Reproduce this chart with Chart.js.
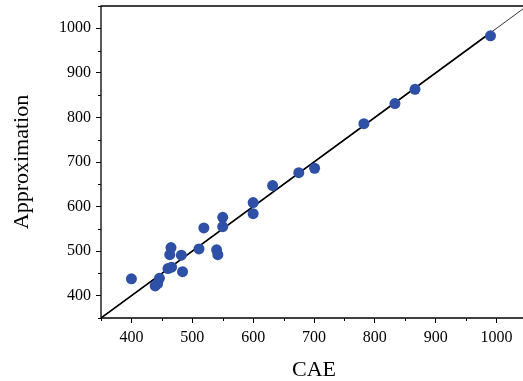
<!DOCTYPE html>
<html>
<head>
<meta charset="utf-8">
<script src="https://cdn.jsdelivr.net/npm/chart.js@4"></script>
<style>
    html, body { margin: 0; padding: 0; background: #fff; overflow: hidden; }
    #chart { display: block; }
</style>
</head>
<body>
<!-- the plot box runs a few pixels past the right edge of the picture -->
<canvas id="chart" width="527" height="381"></canvas>
<script>
// CAE vs approximation values
const caeValues = [400, 439, 443, 446, 460, 466, 463, 465, 482, 484, 511, 519, 540, 542, 550, 550, 600, 600, 632, 675, 701, 782, 833, 866, 990];
const approxValues = [438, 422, 427, 439, 461, 464, 492, 508, 491, 454, 505, 552, 503, 492, 576, 555, 609, 584, 647, 676, 686, 786, 831, 863, 983];

// y = x reference line, drawn heavier over the data range
const refLine = [350, 1050];
const fitLine = [350, 990];

const axisMin = 350;
const axisMax = 1050;
const majorTicks = [400, 500, 600, 700, 800, 900, 1000];
const minorTicks = [350, 450, 550, 650, 750, 850, 950, 1050];

const serif = 'Liberation Serif, Times New Roman, serif';

// open frame (top, left, bottom) and the short minor ticks
const framePlugin = {
    id: 'frame',
    afterDraw(chart) {
        const { ctx, chartArea, scales } = chart;
        ctx.save();
        ctx.strokeStyle = '#000';
        ctx.lineWidth = 1.3;
        ctx.beginPath();
        ctx.moveTo(chartArea.right, chartArea.top);
        ctx.lineTo(chartArea.left, chartArea.top);
        ctx.lineTo(chartArea.left, chartArea.bottom);
        ctx.lineTo(chartArea.right, chartArea.bottom);
        ctx.stroke();

        ctx.lineWidth = 1;
        ctx.beginPath();
        minorTicks.forEach(v => {
            const px = Math.round(scales.x.getPixelForValue(v)) + 0.5;
            ctx.moveTo(px, chartArea.bottom);
            ctx.lineTo(px, chartArea.bottom + 3);
            const py = Math.round(scales.y.getPixelForValue(v)) + 0.5;
            ctx.moveTo(chartArea.left, py);
            ctx.lineTo(chartArea.left - 3, py);
        });
        ctx.stroke();
        ctx.restore();
    }
};

function setMajorTicks(scale) {
    scale.ticks = majorTicks.map(v => ({ value: v }));
}

function noEdgePadding(scale) {
    scale.paddingTop = 0;
    scale.paddingBottom = 0;
    scale.paddingLeft = 0;
    scale.paddingRight = 0;
}

const ctx = document.getElementById('chart').getContext('2d');

new Chart(ctx, {
    type: 'scatter',
    data: {
        datasets: [
            {
                label: 'Data',
                data: caeValues.map((x, i) => ({ x: x, y: approxValues[i] })),
                backgroundColor: '#2e50a6',
                borderColor: '#2e50a6',
                pointRadius: 5.5,
                pointBorderWidth: 0,
                order: 0
            },
            {
                label: 'Fit',
                type: 'line',
                data: fitLine.map(v => ({ x: v, y: v })),
                borderColor: '#000',
                borderWidth: 1.6,
                pointRadius: 0,
                fill: false,
                order: 1
            },
            {
                label: 'y = x',
                type: 'line',
                data: refLine.map(v => ({ x: v, y: v })),
                borderColor: '#000',
                borderWidth: 0.8,
                pointRadius: 0,
                fill: false,
                order: 2
            }
        ]
    },
    options: {
        responsive: false,
        animation: false,
        layout: {
            autoPadding: false,
            padding: { top: 6, right: 0, left: 0, bottom: 0 }
        },
        plugins: {
            legend: { display: false },
            tooltip: { enabled: false }
        },
        scales: {
            x: {
                type: 'linear',
                min: axisMin,
                max: axisMax,
                afterBuildTicks: setMajorTicks,
                afterFit: scale => { scale.height = 63; noEdgePadding(scale); },
                border: { display: false },
                grid: {
                    drawOnChartArea: false,
                    tickLength: 5,
                    tickColor: '#000',
                    tickWidth: 1
                },
                ticks: {
                    maxRotation: 0,
                    autoSkip: false,
                    padding: 5,
                    color: '#000',
                    font: { family: serif, size: 16 },
                    callback: v => String(v)
                },
                title: {
                    display: true,
                    text: 'CAE',
                    color: '#000',
                    padding: { top: 0, bottom: -2 },
                    font: { family: serif, size: 22 }
                }
            },
            y: {
                type: 'linear',
                min: axisMin,
                max: axisMax,
                afterBuildTicks: setMajorTicks,
                afterFit: scale => { scale.width = 101; noEdgePadding(scale); },
                border: { display: false },
                grid: {
                    drawOnChartArea: false,
                    tickLength: 5,
                    tickColor: '#000',
                    tickWidth: 1
                },
                ticks: {
                    autoSkip: false,
                    padding: 5,
                    color: '#000',
                    font: { family: serif, size: 16 },
                    callback: v => String(v)
                },
                title: {
                    display: true,
                    text: 'Approximation',
                    color: '#000',
                    padding: { top: 9, bottom: 0 },
                    font: { family: serif, size: 22 }
                }
            }
        }
    },
    plugins: [framePlugin]
});
</script>
</body>
</html>
